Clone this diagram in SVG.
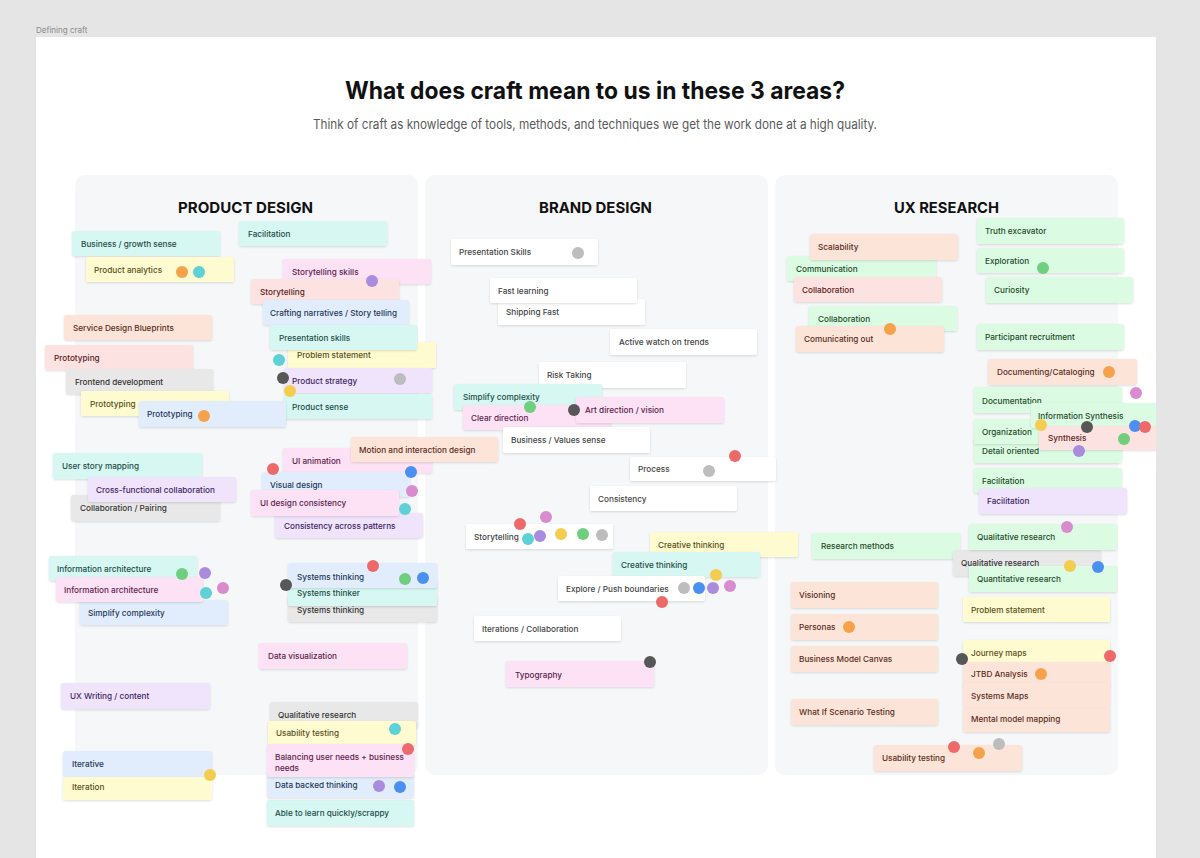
<svg xmlns="http://www.w3.org/2000/svg" width="1200" height="858" viewBox="0 0 1200 858">
<defs>
<filter id="sh" x="-5%" y="-20%" width="110%" height="150%"><feDropShadow dx="0" dy="1" stdDeviation="0.8" flood-color="#000" flood-opacity="0.13"/></filter>
<clipPath id="frame"><rect x="36" y="37" width="1120" height="821"/></clipPath>
<style>
.n rect{rx:2px;filter:url(#sh)}
.n text{font-family:Inter,"Noto Sans","Liberation Sans",sans-serif;font-size:8.2px;font-weight:500}
.cy rect{fill:#d6f7f2}.cy text{fill:#1e4d47}
.ye rect{fill:#fffbd0}.ye text{fill:#585022}
.pk rect{fill:#fde1f4}.pk text{fill:#5c1f4d}
.rd rect{fill:#fde2e2}.rd text{fill:#5c2323}
.pe rect{fill:#fde4d9}.pe text{fill:#5c2e1d}
.lv rect{fill:#f0e3fc}.lv text{fill:#3e2662}
.bl rect{fill:#e1edfc}.bl text{fill:#1f3858}
.gy rect{fill:#e8e8e8}.gy text{fill:#333}
.gn rect{fill:#dcfbe3}.gn text{fill:#1e4b2a}
.wh rect{fill:#fff}.wh text{fill:#444}
.panel{fill:#f6f7f9}
.hd{font-family:Inter,"Liberation Sans",sans-serif;font-weight:700;font-size:15px;fill:#111;text-anchor:middle}
.d circle{r:6px}
.or{fill:#f5a24a}.te{fill:#5dd1d6}.pu{fill:#a98be0}.gr{fill:#bdbdbd}.dk{fill:#575757}.yl{fill:#f2cd4f}.re{fill:#ee6a6a}.bu{fill:#4b8ff0}.gn2{fill:#6fcf7e}.pi{fill:#d98bd0}
</style>
</defs>
<rect width="1200" height="858" fill="#e5e5e5"/>
<text x="36" y="33" font-family="Inter,'Liberation Sans',sans-serif" font-size="8" fill="#8a8a8a">Defining craft</text>
<rect x="36" y="37" width="1120" height="821" fill="#fff"/>
<text x="595" y="99" text-anchor="middle" font-family="Inter,'Liberation Sans',sans-serif" font-weight="700" font-size="24" fill="#111" textLength="500" lengthAdjust="spacingAndGlyphs">What does craft mean to us in these 3 areas?</text>
<text x="595" y="129" text-anchor="middle" font-family="Inter,'Liberation Sans',sans-serif" font-size="13" fill="#5a5a5a" textLength="564" lengthAdjust="spacingAndGlyphs">Think of craft as knowledge of tools, methods, and techniques we get the work done at a high quality.</text>

<g id="panels">
<rect class="panel" x="75" y="175" width="343" height="600" rx="10"/>
<rect class="panel" x="425" y="175" width="343" height="600" rx="10"/>
<rect class="panel" x="775" y="175" width="343" height="600" rx="10"/>
<text class="hd" x="245.5" y="213" textLength="135" lengthAdjust="spacingAndGlyphs">PRODUCT DESIGN</text>
<text class="hd" x="595.5" y="213" textLength="113" lengthAdjust="spacingAndGlyphs">BRAND DESIGN</text>
<text class="hd" x="946.5" y="213" textLength="105" lengthAdjust="spacingAndGlyphs">UX RESEARCH</text>
</g>

<g id="product-design">
<g id="pd-facilitation" class="n cy"><rect x="239" y="221" width="148" height="25"/><text x="248" y="236.5">Facilitation</text></g>
<g id="pd-business-growth" class="n cy"><rect x="72" y="231" width="148" height="25"/><text x="81" y="246.5">Business / growth sense</text></g>
<g id="pd-product-analytics" class="n ye"><rect x="86" y="257" width="148" height="25"/><text x="94" y="272.5">Product analytics</text></g>
<g id="pd-storytelling-skills" class="n pk"><rect x="283" y="259" width="148" height="25"/><text x="292" y="274.5">Storytelling skills</text></g>
<g id="pd-storytelling" class="n rd"><rect x="251" y="279" width="148" height="25"/><text x="260" y="294.5">Storytelling</text></g>
<g id="pd-crafting-narratives" class="n bl"><rect x="263" y="300" width="146" height="25"/><text x="270" y="315.5">Crafting narratives / Story telling</text></g>
<g id="pd-problem-statement" class="n ye"><rect x="288" y="342" width="148" height="26"/><text x="297" y="358">Problem statement</text></g>
<g id="pd-presentation-skills" class="n cy"><rect x="270" y="325" width="147" height="25"/><text x="279" y="340.5">Presentation skills</text></g>
<g id="pd-product-strategy" class="n lv"><rect x="284" y="368" width="148" height="25"/><text x="292" y="383.5">Product strategy</text></g>
<g id="pd-product-sense" class="n cy"><rect x="284" y="394" width="148" height="25"/><text x="292" y="409.5">Product sense</text></g>
<g id="pd-service-blueprints" class="n pe"><rect x="64" y="315" width="148" height="25"/><text x="73" y="330.5">Service Design Blueprints</text></g>
<g id="pd-prototyping-1" class="n rd"><rect x="45" y="345" width="148" height="25"/><text x="54" y="360.5">Prototyping</text></g>
<g id="pd-frontend" class="n gy"><rect x="66" y="369" width="147" height="25"/><text x="75" y="384.5">Frontend development</text></g>
<g id="pd-prototyping-2" class="n ye"><rect x="81" y="391" width="148" height="25"/><text x="90" y="406.5">Prototyping</text></g>
<g id="pd-prototyping-3" class="n bl"><rect x="139" y="401" width="147" height="26"/><text x="147" y="417">Prototyping</text></g>
<g id="pd-ui-animation" class="n pk"><rect x="283" y="448" width="149" height="25"/><text x="292" y="463.5">UI animation</text></g>
<g id="pd-motion" class="n pe"><rect x="351" y="437" width="147" height="25"/><text x="359" y="452.5">Motion and interaction design</text></g>
<g id="pd-visual-design" class="n bl"><rect x="262" y="472" width="148" height="25"/><text x="270" y="487.5">Visual design</text></g>
<g id="pd-consistency-patterns" class="n lv"><rect x="275" y="513" width="148" height="25"/><text x="284" y="528.5">Consistency across patterns</text></g>
<g id="pd-ui-consistency" class="n pk"><rect x="251" y="490" width="148" height="26"/><text x="260" y="506">UI design consistency</text></g>
<g id="pd-user-story" class="n cy"><rect x="53" y="453" width="149" height="26"/><text x="62" y="469">User story mapping</text></g>
<g id="pd-collab-pairing" class="n gy"><rect x="71" y="495" width="149" height="26"/><text x="80" y="511">Collaboration / Pairing</text></g>
<g id="pd-cross-functional" class="n lv"><rect x="88" y="477" width="148" height="25"/><text x="96" y="492.5">Cross-functional collaboration</text></g>
<g id="pd-info-arch-1" class="n cy"><rect x="49" y="556" width="148" height="25"/><text x="57" y="571.5">Information architecture</text></g>
<g id="pd-simplify" class="n bl"><rect x="80" y="600" width="148" height="25"/><text x="88" y="615.5">Simplify complexity</text></g>
<g id="pd-info-arch-2" class="n pk"><rect x="56" y="577" width="147" height="25"/><text x="64" y="592.5">Information architecture</text></g>
<g id="pd-systems-thinking-2" class="n gy"><rect x="288" y="597" width="149" height="25"/><text x="297" y="613">Systems thinking</text></g>
<g id="pd-systems-thinker" class="n cy"><rect x="288" y="581" width="149" height="25"/><text x="297" y="596">Systems thinker</text></g>
<g id="pd-systems-thinking-1" class="n bl"><rect x="288" y="563" width="149" height="25"/><text x="297" y="580">Systems thinking</text></g>
<g id="pd-data-viz" class="n pk"><rect x="259" y="643" width="148" height="26"/><text x="268" y="659">Data visualization</text></g>
<g id="pd-ux-writing" class="n lv"><rect x="61" y="683" width="149" height="26"/><text x="70" y="699">UX Writing / content</text></g>
<g id="pd-qual-research" class="n gy"><rect x="270" y="702" width="148" height="26"/><text x="278" y="718">Qualitative research</text></g>
<g id="pd-usability" class="n ye"><rect x="268" y="721" width="148" height="24"/><text x="276" y="736">Usability testing</text></g>
<g id="pd-learn-quickly" class="n cy"><rect x="267" y="800" width="147" height="26"/><text x="275" y="816">Able to learn quickly/scrappy</text></g>
<g id="pd-data-backed" class="n bl"><rect x="267" y="773" width="147" height="25"/><text x="275" y="788">Data backed thinking</text></g>
<g id="pd-balancing" class="n pk"><rect x="267" y="744" width="147" height="33"/><text x="275" y="760">Balancing user needs + business</text><text x="275" y="771">needs</text></g>
<g id="pd-iterative" class="n bl"><rect x="63" y="751" width="149" height="26"/><text x="72" y="767">Iterative</text></g>
<g id="pd-iteration" class="n ye"><rect x="63" y="777" width="149" height="23"/><text x="72" y="790">Iteration</text></g>
</g>

<g id="brand-design">
<g id="bd-presentation-skills" class="n wh"><rect x="451" y="239" width="147" height="26"/><text x="459" y="255">Presentation Skills</text></g>
<g id="bd-shipping-fast" class="n wh"><rect x="498" y="299" width="147" height="26"/><text x="506" y="315">Shipping Fast</text></g>
<g id="bd-fast-learning" class="n wh"><rect x="490" y="278" width="147" height="25"/><text x="498" y="293.5">Fast learning</text></g>
<g id="bd-active-watch" class="n wh"><rect x="610" y="329" width="147" height="26"/><text x="619" y="345">Active watch on trends</text></g>
<g id="bd-risk-taking" class="n wh"><rect x="539" y="362" width="147" height="26"/><text x="547" y="378">Risk Taking</text></g>
<g id="bd-simplify" class="n cy"><rect x="454" y="384" width="148" height="26"/><text x="463" y="400">Simplify complexity</text></g>
<g id="bd-clear-direction" class="n pk"><rect x="463" y="405" width="148" height="25"/><text x="471" y="421">Clear direction</text></g>
<g id="bd-art-direction" class="n pk"><rect x="576" y="397" width="148" height="26"/><text x="585" y="413">Art direction / vision</text></g>
<g id="bd-business-values" class="n wh"><rect x="503" y="427" width="147" height="26"/><text x="511" y="443">Business / Values sense</text></g>
<g id="bd-process" class="n wh"><rect x="630" y="457" width="146" height="24"/><text x="638" y="472">Process</text></g>
<g id="bd-consistency" class="n wh"><rect x="590" y="486" width="147" height="25"/><text x="598" y="501.5">Consistency</text></g>
<g id="bd-storytelling" class="n wh"><rect x="466" y="524" width="147" height="25"/><text x="474" y="540">Storytelling</text></g>
<g id="bd-creative-1" class="n ye"><rect x="650" y="532" width="148" height="25"/><text x="658" y="547.5">Creative thinking</text></g>
<g id="bd-creative-2" class="n cy"><rect x="613" y="552" width="147" height="25"/><text x="621" y="567.5">Creative thinking</text></g>
<g id="bd-explore" class="n wh"><rect x="558" y="576" width="147" height="25"/><text x="566" y="591.5">Explore / Push boundaries</text></g>
<g id="bd-iterations" class="n wh"><rect x="474" y="616" width="147" height="25"/><text x="482" y="631.5">Iterations / Collaboration</text></g>
<g id="bd-typography" class="n pk"><rect x="506" y="661" width="148" height="26"/><text x="515" y="678">Typography</text></g>
</g>

<g id="ux-research" clip-path="url(#frame)">
<g id="ux-communication" class="n gn"><rect x="787" y="256" width="149" height="25"/><text x="796" y="272">Communication</text></g>
<g id="ux-scalability" class="n pe"><rect x="810" y="234" width="148" height="26"/><text x="818" y="250">Scalability</text></g>
<g id="ux-collaboration-1" class="n rd"><rect x="794" y="277" width="148" height="25"/><text x="802" y="293">Collaboration</text></g>
<g id="ux-collaboration-2" class="n gn"><rect x="809" y="306" width="148" height="25"/><text x="818" y="321.5">Collaboration</text></g>
<g id="ux-communicating-out" class="n pe"><rect x="796" y="326" width="148" height="26"/><text x="804" y="342">Comunicating out</text></g>
<g id="ux-truth-excavator" class="n gn"><rect x="977" y="218" width="147" height="26"/><text x="985" y="234">Truth excavator</text></g>
<g id="ux-exploration" class="n gn"><rect x="977" y="248" width="147" height="25"/><text x="985" y="263.5">Exploration</text></g>
<g id="ux-curiosity" class="n gn"><rect x="986" y="277" width="147" height="26"/><text x="994" y="293">Curiosity</text></g>
<g id="ux-participant" class="n gn"><rect x="977" y="324" width="147" height="26"/><text x="985" y="340">Participant recruitment</text></g>
<g id="ux-documenting" class="n pe"><rect x="988" y="359" width="149" height="26"/><text x="997" y="375">Documenting/Cataloging</text></g>
<g id="ux-documentation" class="n gn"><rect x="974" y="387" width="148" height="26"/><text x="982" y="404">Documentation</text></g>
<g id="ux-detail-oriented" class="n gn"><rect x="974" y="438" width="148" height="25"/><text x="982" y="454">Detail oriented</text></g>
<g id="ux-organization" class="n gn"><rect x="974" y="419" width="148" height="25"/><text x="982" y="435">Organization</text></g>
<g id="ux-info-synthesis" class="n gn"><rect x="1031" y="403" width="130" height="25"/><text x="1038" y="419">Information Synthesis</text></g>
<g id="ux-synthesis" class="n rd"><rect x="1039" y="426" width="122" height="24"/><text x="1048" y="441">Synthesis</text></g>
<g id="ux-facilitation-1" class="n gn"><rect x="974" y="468" width="148" height="25"/><text x="982" y="484">Facilitation</text></g>
<g id="ux-facilitation-2" class="n lv"><rect x="979" y="488" width="148" height="26"/><text x="987" y="504">Facilitation</text></g>
<g id="ux-research-methods" class="n gn"><rect x="812" y="533" width="148" height="26"/><text x="821" y="549">Research methods</text></g>
<g id="ux-qual-research-2" class="n gy"><rect x="953" y="550" width="148" height="26"/><text x="961" y="566">Qualitative research</text></g>
<g id="ux-qual-research-1" class="n gn"><rect x="969" y="524" width="148" height="26"/><text x="977" y="540">Qualitative research</text></g>
<g id="ux-quant-research" class="n gn"><rect x="969" y="566" width="148" height="26"/><text x="977" y="582">Quantitative research</text></g>
<g id="ux-problem-statement" class="n ye"><rect x="963" y="597" width="147" height="25"/><text x="971" y="613">Problem statement</text></g>
<g id="ux-visioning" class="n pe"><rect x="791" y="582" width="147" height="26"/><text x="799" y="598">Visioning</text></g>
<g id="ux-personas" class="n pe"><rect x="791" y="614" width="147" height="26"/><text x="799" y="630">Personas</text></g>
<g id="ux-bmc" class="n pe"><rect x="791" y="646" width="147" height="26"/><text x="799" y="662">Business Model Canvas</text></g>
<g id="ux-what-if" class="n pe"><rect x="791" y="699" width="147" height="26"/><text x="799" y="715">What If Scenario Testing</text></g>
<g id="ux-journey-maps" class="n ye"><rect x="963" y="640" width="147" height="25"/><text x="971" y="656">Journey maps</text></g>
<g id="ux-jtbd" class="n pe"><rect x="963" y="662" width="147" height="25"/><text x="971" y="677">JTBD Analysis</text></g>
<g id="ux-systems-maps" class="n pe"><rect x="963" y="683" width="147" height="25"/><text x="971" y="699">Systems Maps</text></g>
<g id="ux-mental-model" class="n pe"><rect x="963" y="708" width="147" height="24"/><text x="971" y="722">Mental model mapping</text></g>
<g id="ux-usability" class="n pe"><rect x="874" y="745" width="148" height="26"/><text x="882" y="761">Usability testing</text></g>
</g>

<g id="votes" class="d">
<circle class="or" cx="182" cy="272"/><circle class="te" cx="199" cy="272"/><circle class="pu" cx="372" cy="281"/>
<circle class="te" cx="279" cy="360"/><circle class="dk" cx="283" cy="378"/><circle class="gr" cx="400" cy="379"/><circle class="yl" cx="290" cy="391"/><circle class="or" cx="204" cy="416"/>
<circle class="re" cx="273" cy="469"/><circle class="bu" cx="411" cy="472"/><circle class="pi" cx="412" cy="491"/><circle class="te" cx="405" cy="509"/>
<circle class="gn2" cx="182" cy="574"/><circle class="pu" cx="205" cy="573"/><circle class="pi" cx="223" cy="588"/><circle class="te" cx="206" cy="593"/>
<circle class="re" cx="373" cy="566"/><circle class="gn2" cx="405" cy="579"/><circle class="bu" cx="423" cy="578"/><circle class="dk" cx="286" cy="585"/>
<circle class="te" cx="395" cy="729"/><circle class="re" cx="408" cy="749"/><circle class="pu" cx="379" cy="786"/><circle class="bu" cx="400" cy="787"/><circle class="yl" cx="210" cy="775"/>
<circle class="gr" cx="578" cy="253"/><circle class="gn2" cx="530" cy="407"/><circle class="dk" cx="574" cy="410"/><circle class="re" cx="735" cy="456"/><circle class="gr" cx="709" cy="471"/>
<circle class="re" cx="520" cy="524"/><circle class="pi" cx="546" cy="517"/><circle class="te" cx="528" cy="539"/><circle class="pu" cx="540" cy="536"/><circle class="yl" cx="561" cy="534"/><circle class="gn2" cx="583" cy="534"/><circle class="gr" cx="602" cy="535"/>
<circle class="yl" cx="716" cy="575"/><circle class="gr" cx="684" cy="588"/><circle class="bu" cx="699" cy="588"/><circle class="pu" cx="713" cy="588"/><circle class="pi" cx="730" cy="586"/><circle class="re" cx="662" cy="602"/><circle class="dk" cx="650" cy="662"/>
<circle class="gn2" cx="1043" cy="268"/><circle class="or" cx="890" cy="329"/><circle class="or" cx="1109" cy="372"/><circle class="pi" cx="1136" cy="393"/>
<circle class="yl" cx="1041" cy="425"/><circle class="dk" cx="1087" cy="427"/><circle class="bu" cx="1135" cy="426"/><circle class="re" cx="1145" cy="427"/><circle class="gn2" cx="1124" cy="439"/><circle class="pu" cx="1079" cy="451"/>
<circle class="pi" cx="1067" cy="527"/><circle class="yl" cx="1070" cy="566"/><circle class="bu" cx="1098" cy="567"/>
<circle class="or" cx="849" cy="627"/><circle class="dk" cx="962" cy="659"/><circle class="re" cx="1110" cy="656"/><circle class="or" cx="1041" cy="674"/>
<circle class="re" cx="954" cy="747"/><circle class="or" cx="979" cy="753"/><circle class="gr" cx="999" cy="744"/>
</g>
</svg>
